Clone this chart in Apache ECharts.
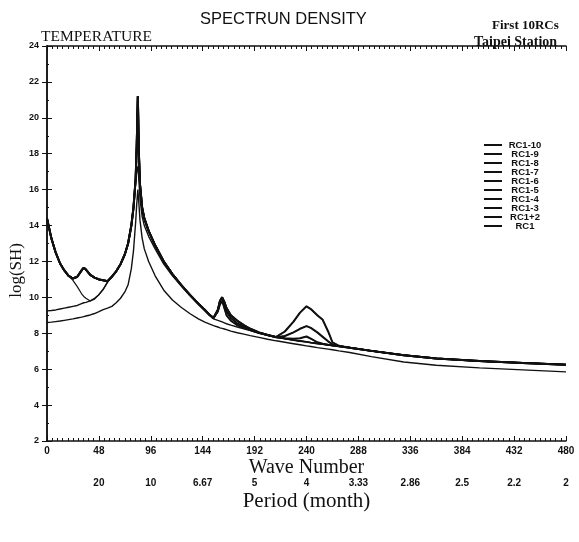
<!DOCTYPE html>
<html>
<head>
<meta charset="utf-8">
<script src="https://cdn.jsdelivr.net/npm/echarts@6/dist/echarts.min.js"></script>
<style>
  html, body { margin: 0; padding: 0; background: #fff; }
  #chart { width: 579px; height: 542px; }
</style>
</head>
<body>
<div id="chart"></div>
<script>
// Wave numbers at which the spectra are sampled
const waveNumbers = [0, 4, 8, 12, 16, 20, 24, 28, 32, 34, 36, 40, 44, 48, 52, 56,
  60, 64, 68, 72, 75, 78, 80, 82, 83, 84, 85, 86, 88, 90,
  94, 100, 108, 116, 124, 132, 140, 146, 150, 154,
  158, 160, 162, 164, 166, 170, 176, 182, 188, 196, 204,
  212, 220, 228, 234, 240, 244, 250, 255, 260, 264, 270,
  280, 300, 330, 360, 400, 440, 480];

// log(SH) spectra of the reconstructed components
const rc1to10 = [14.4, 13.3, 12.5, 11.9, 11.5, 11.2, 11.05, 11.15, 11.5, 11.65, 11.55, 11.25, 11.1, 11.0, 10.95, 10.9,
  11.15, 11.45, 11.85, 12.4, 13.0, 14.0, 15.0, 16.6, 18.5, 21.2, 18.0, 16.3, 15.0, 14.4,
  13.7, 12.9, 12.0, 11.3, 10.7, 10.15, 9.65, 9.3, 9.05, 8.85,
  9.3, 9.8, 10.0, 9.75, 9.4, 9.0, 8.7, 8.45, 8.25, 8.05, 7.9,
  7.8, 8.1, 8.65, 9.15, 9.5, 9.35, 9.0, 8.75, 8.1, 7.5, 7.3,
  7.2, 7.02, 6.78, 6.6, 6.45, 6.35, 6.25];
const rc1to9 = [14.4, 13.3, 12.5, 11.9, 11.5, 11.2, 11.05, 11.15, 11.5, 11.65, 11.55, 11.25, 11.1, 11.0, 10.95, 10.9,
  11.15, 11.45, 11.85, 12.4, 13.0, 14.0, 15.0, 16.6, 18.5, 21.2, 18.0, 16.3, 15.0, 14.4,
  13.7, 12.9, 12.0, 11.3, 10.7, 10.15, 9.65, 9.3, 9.05, 8.85,
  9.3, 9.8, 10.0, 9.75, 9.4, 9.0, 8.7, 8.45, 8.25, 8.05, 7.9,
  7.8, 8.1, 8.65, 9.15, 9.5, 9.35, 9.0, 8.75, 8.1, 7.5, 7.3,
  7.2, 7.02, 6.78, 6.6, 6.45, 6.35, 6.25];
const rc1to8 = [14.4, 13.3, 12.5, 11.9, 11.5, 11.2, 11.05, 11.15, 11.5, 11.65, 11.55, 11.25, 11.1, 11.0, 10.95, 10.9,
  11.15, 11.45, 11.85, 12.4, 13.0, 14.0, 15.0, 16.6, 18.5, 21.2, 18.0, 16.3, 15.0, 14.4,
  13.7, 12.9, 12.0, 11.3, 10.7, 10.15, 9.65, 9.3, 9.05, 8.85,
  9.3, 9.8, 10.0, 9.75, 9.4, 9.0, 8.7, 8.45, 8.25, 8.05, 7.9,
  7.78, 7.85, 8.05, 8.25, 8.4, 8.3, 8.05, 7.8, 7.55, 7.38, 7.28,
  7.2, 7.02, 6.78, 6.6, 6.45, 6.35, 6.25];
const rc1to7 = [14.4, 13.3, 12.5, 11.9, 11.5, 11.2, 11.05, 11.15, 11.5, 11.65, 11.55, 11.25, 11.1, 11.0, 10.95, 10.9,
  11.15, 11.45, 11.85, 12.4, 13.0, 14.0, 15.0, 16.6, 18.5, 21.2, 18.0, 16.3, 15.0, 14.4,
  13.7, 12.9, 12.0, 11.3, 10.7, 10.15, 9.65, 9.3, 9.05, 8.85,
  9.3, 9.8, 10.0, 9.75, 9.4, 9.0, 8.7, 8.45, 8.25, 8.05, 7.9,
  7.78, 7.85, 8.05, 8.25, 8.4, 8.3, 8.05, 7.8, 7.55, 7.38, 7.28,
  7.2, 7.02, 6.78, 6.6, 6.45, 6.35, 6.25];
const rc1to6 = [14.4, 13.3, 12.5, 11.9, 11.5, 11.2, 11.05, 11.15, 11.5, 11.65, 11.55, 11.25, 11.1, 11.0, 10.95, 10.9,
  11.15, 11.45, 11.85, 12.4, 13.0, 14.0, 15.0, 16.6, 18.5, 21.2, 18.0, 16.3, 15.0, 14.4,
  13.7, 12.9, 12.0, 11.3, 10.7, 10.15, 9.65, 9.3, 9.05, 8.85,
  9.3, 9.8, 10.0, 9.6, 9.2, 8.85, 8.55, 8.35, 8.2, 8.03, 7.9,
  7.78, 7.72, 7.7, 7.72, 7.82, 7.7, 7.5, 7.42, 7.36, 7.32, 7.28,
  7.2, 7.02, 6.78, 6.6, 6.45, 6.35, 6.25];
const rc1to5 = [14.4, 13.3, 12.5, 11.9, 11.5, 11.2, 11.05, 11.15, 11.5, 11.65, 11.55, 11.25, 11.1, 11.0, 10.95, 10.9,
  11.15, 11.45, 11.85, 12.4, 13.0, 14.0, 15.0, 16.6, 18.5, 21.2, 18.0, 16.3, 15.0, 14.4,
  13.7, 12.9, 12.0, 11.3, 10.7, 10.15, 9.65, 9.3, 9.05, 8.85,
  9.3, 9.8, 10.0, 9.6, 9.2, 8.85, 8.55, 8.35, 8.2, 8.03, 7.9,
  7.78, 7.72, 7.7, 7.72, 7.82, 7.7, 7.5, 7.42, 7.36, 7.32, 7.28,
  7.2, 7.02, 6.78, 6.6, 6.45, 6.35, 6.25];
const rc1to4 = [14.4, 13.3, 12.5, 11.9, 11.5, 11.2, 11.05, 11.15, 11.5, 11.65, 11.55, 11.25, 11.1, 11.0, 10.95, 10.9,
  11.15, 11.45, 11.85, 12.4, 13.0, 14.0, 15.0, 16.6, 18.5, 21.2, 18.0, 16.3, 15.0, 14.4,
  13.7, 12.9, 12.0, 11.3, 10.7, 10.15, 9.65, 9.3, 9.05, 8.85,
  9.2, 9.6, 9.8, 9.4, 9.0, 8.7, 8.45, 8.3, 8.17, 8.02, 7.9,
  7.78, 7.7, 7.62, 7.57, 7.52, 7.48, 7.43, 7.39, 7.35, 7.32, 7.28,
  7.2, 7.02, 6.78, 6.6, 6.45, 6.35, 6.25];
const rc1to3 = [14.4, 13.3, 12.5, 11.9, 11.5, 11.2, 10.95, 10.6, 10.2, 10.05, 9.95, 9.8, 9.9, 10.15, 10.45, 10.85,
  11.15, 11.45, 11.85, 12.4, 13.0, 14.0, 15.0, 16.6, 18.5, 21.2, 18.0, 16.3, 15.0, 14.4,
  13.7, 12.9, 12.0, 11.3, 10.7, 10.15, 9.65, 9.3, 9.05, 8.85,
  9.2, 9.6, 9.8, 9.4, 9.0, 8.7, 8.45, 8.3, 8.17, 8.02, 7.9,
  7.78, 7.7, 7.62, 7.57, 7.52, 7.48, 7.43, 7.39, 7.35, 7.32, 7.28,
  7.2, 7.02, 6.78, 6.6, 6.45, 6.35, 6.25];
const rc1plus2 = [9.25, 9.27, 9.3, 9.35, 9.4, 9.45, 9.5, 9.55, 9.65, 9.7, 9.72, 9.8, 9.95, 10.15, 10.45, 10.85,
  11.15, 11.45, 11.85, 12.4, 13.0, 14.0, 15.0, 16.5, 17.0, 17.3, 16.5, 15.5, 14.5, 14.0,
  13.4, 12.7, 11.85, 11.2, 10.65, 10.1, 9.6, 9.25, 9.0, 8.8,
  8.72, 8.68, 8.63, 8.58, 8.53, 8.45, 8.35, 8.25, 8.15, 8.0, 7.88,
  7.78, 7.7, 7.62, 7.57, 7.52, 7.48, 7.43, 7.39, 7.35, 7.32, 7.28,
  7.2, 7.02, 6.78, 6.6, 6.45, 6.35, 6.25];
const rc1 = [8.6, 8.62, 8.65, 8.68, 8.72, 8.76, 8.8, 8.85, 8.9, 8.93, 8.96, 9.02, 9.1, 9.2, 9.32, 9.4,
  9.5, 9.7, 9.95, 10.3, 10.7, 11.6, 12.6, 14.2, 15.2, 16.0, 15.2, 14.3, 13.3, 12.7,
  12.0, 11.2, 10.4, 9.85, 9.45, 9.1, 8.8, 8.62, 8.52, 8.43,
  8.35, 8.3, 8.27, 8.24, 8.2, 8.12, 8.03, 7.95, 7.87, 7.77, 7.67,
  7.58, 7.5, 7.42, 7.36, 7.3, 7.26, 7.2, 7.16, 7.12, 7.08, 7.02,
  6.93, 6.7, 6.4, 6.22, 6.07, 5.96, 5.85];

const seriesNames = ['RC1-10', 'RC1-9', 'RC1-8', 'RC1-7', 'RC1-6', 'RC1-5', 'RC1-4', 'RC1-3', 'RC1+2', 'RC1'];
const seriesValues = [rc1to10, rc1to9, rc1to8, rc1to7, rc1to6, rc1to5, rc1to4, rc1to3, rc1plus2, rc1];
const lineWidths = [2, 1.2, 2, 1.1, 1.1, 2, 1.8, 1.2, 1.4, 1.4];

// Axis tick labels
const yTicks = [2, 24, 2];              // min, max, step of log(SH)
const waveTicks = [0, 480, 48];         // min, max, step of wave number
const periodLabels = ['', '20', '10', '6.67', '5', '4', '3.33', '2.86', '2.5', '2.2', '2'];

const ink = '#111';
const labelFont = 'Liberation Sans';
const serifFont = 'Liberation Serif';

const series = seriesNames.map((name, i) => ({
  name: name,
  type: 'line',
  xAxisIndex: 0,
  yAxisIndex: 0,
  symbol: 'none',
  silent: true,
  animation: false,
  data: waveNumbers.map((w, k) => [w, seriesValues[i][k]]),
  lineStyle: { color: ink, width: lineWidths[i] },
  itemStyle: { color: ink },
  z: 10 - i
}));

const chart = echarts.init(document.getElementById('chart'), null, { renderer: 'canvas' });

const commonTick = { show: true, inside: true, length: 5, lineStyle: { color: ink, width: 1 } };
const commonMinor = { show: true, splitNumber: 10, length: 3, lineStyle: { color: ink, width: 1 } };

chart.setOption({
  backgroundColor: '#fff',
  animation: false,
  title: [
    { text: 'SPECTRUN DENSITY', left: 195, top: 6,
      textStyle: { fontFamily: labelFont, fontSize: 16.5, fontWeight: 'normal', color: ink } },
    { text: 'TEMPERATURE', left: 36, top: 24,
      textStyle: { fontFamily: serifFont, fontSize: 15.5, fontWeight: 'normal', color: ink } },
    { text: 'First 10RCs', left: 487, top: 14,
      textStyle: { fontFamily: serifFont, fontSize: 13, fontWeight: 'bold', color: ink } },
    { text: 'Taipei Station', left: 469, top: 30,
      textStyle: { fontFamily: serifFont, fontSize: 14, fontWeight: 'bold', color: ink } }
  ],
  legend: {
    orient: 'vertical',
    left: 478,
    top: 135,
    itemWidth: 18,
    itemHeight: 5,
    itemGap: -1,
    data: seriesNames,
    itemStyle: { opacity: 0 },
    formatter: name => '{t|' + name + '}',
    textStyle: {
      color: ink, lineHeight: 10,
      rich: { t: { fontFamily: labelFont, fontSize: 9.5, fontWeight: 'bold', color: ink,
        width: 36, align: 'center', lineHeight: 10 } }
    },
    selectedMode: false
  },
  graphic: [
    { type: 'text', left: 8, top: 243, rotation: Math.PI / 2,
      style: { text: 'log(SH)', fontFamily: serifFont, fontSize: 17, fill: ink } }
  ],
  grid: { left: 47, right: 13, top: 46, bottom: 101, containLabel: false },
  xAxis: [
    {
      type: 'value', position: 'bottom', min: waveTicks[0], max: waveTicks[1], interval: waveTicks[2],
      axisLine: { show: true, lineStyle: { color: ink, width: 1.5 } },
      axisTick: commonTick,
      minorTick: commonMinor,
      splitLine: { show: false },
      axisLabel: { fontFamily: labelFont, fontSize: 10, fontWeight: 'bold', color: ink, margin: 5 },
      name: 'Wave Number', nameLocation: 'middle', nameGap: 17, nameMoveOverlap: false,
      nameTextStyle: { fontFamily: serifFont, fontSize: 20, color: ink }
    },
    {
      type: 'value', position: 'top', min: waveTicks[0], max: waveTicks[1], interval: waveTicks[2],
      axisLine: { show: true, lineStyle: { color: ink, width: 1.5 } },
      axisTick: commonTick,
      minorTick: commonMinor,
      splitLine: { show: false },
      axisLabel: { show: false }
    },
    {
      type: 'value', position: 'bottom', offset: 32, min: waveTicks[0], max: waveTicks[1], interval: waveTicks[2],
      axisLine: { show: false },
      axisTick: { show: false },
      splitLine: { show: false },
      axisLabel: {
        fontFamily: labelFont, fontSize: 10, fontWeight: 'bold', color: ink, margin: 5,
        formatter: v => periodLabels[Math.round(v / waveTicks[2])]
      },
      name: 'Period (month)', nameLocation: 'middle', nameGap: 18, nameMoveOverlap: false,
      nameTextStyle: { fontFamily: serifFont, fontSize: 21, color: ink }
    }
  ],
  yAxis: [
    {
      type: 'value', position: 'left', min: yTicks[0], max: yTicks[1], interval: yTicks[2],
      axisLine: { show: true, lineStyle: { color: ink, width: 1.5 } },
      axisTick: commonTick,
      minorTick: { show: true, splitNumber: 2, length: 2, lineStyle: { color: ink, width: 1 } },
      splitLine: { show: false },
      axisLabel: { fontFamily: labelFont, fontSize: 9, fontWeight: 'bold', color: ink, margin: 8 }
    },
    {
      type: 'value', position: 'right', min: yTicks[0], max: yTicks[1], interval: yTicks[2],
      axisLine: { show: true, lineStyle: { color: ink, width: 1.5 } },
      axisTick: commonTick,
      splitLine: { show: false },
      axisLabel: { show: false }
    }
  ],
  series: series
});
</script>
</body>
</html>
